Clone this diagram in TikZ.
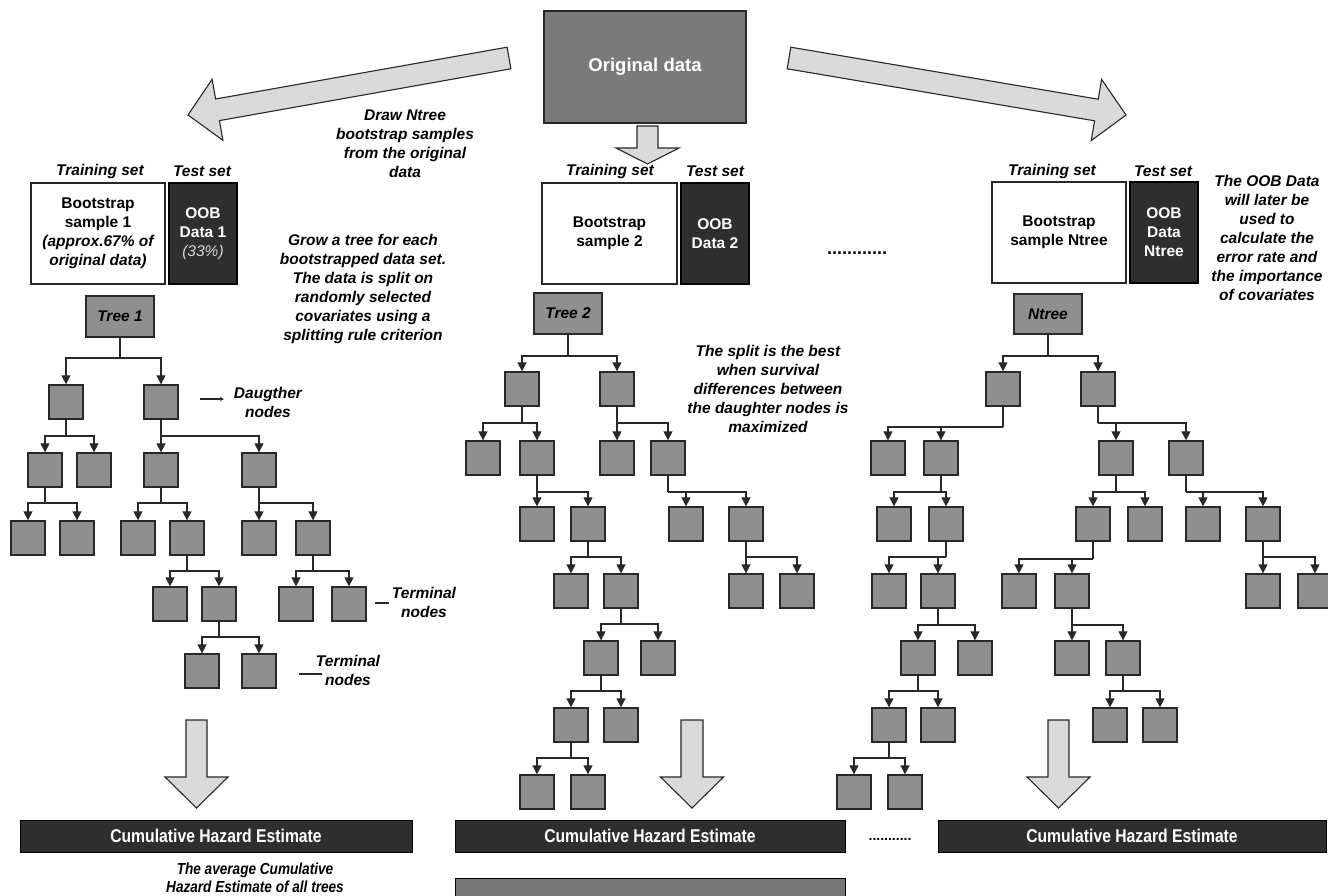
\documentclass[tikz,border=0pt]{standalone}
\usepackage{fontspec}
\setmainfont{Liberation Sans}
\newfontfamily\narrowfont[FakeStretch=0.85]{Liberation Sans}
\usetikzlibrary{arrows.meta,calc}

\definecolor{leaffill}{RGB}{143,143,143}
\definecolor{edgecol}{RGB}{40,40,40}
\definecolor{darkbox}{RGB}{46,46,46}
\definecolor{origfill}{RGB}{122,122,122}
\definecolor{arrfill}{RGB}{218,218,218}
\definecolor{lowbar}{RGB}{118,118,118}

\newcommand\bitext{\fontsize{15.5}{19}\selectfont\bfseries\itshape}
\newcommand\bftext{\fontsize{15.5}{19}\selectfont\bfseries}

% parent, branch y, child1, child2
\newcommand\splitnode[4]{%
  \draw[branch] (#1.south) -- (#1.south |- 0,#2);
  \draw[branch,tip] (#1.south |- 0,#2) -| (#3.north);
  \draw[branch,tip] (#1.south |- 0,#2) -| (#4.north);}

% centre x, half stem, top, head base, tip
\newcommand\blockdown[5]{%
  \filldraw[bigarrow] (#1-#2,#3) -- (#1+#2,#3) -- (#1+#2,#4) -- (#1+31.5,#4)
    -- (#1,#5) -- (#1-31.5,#4) -- (#1-#2,#4) -- cycle;}

\tikzset{
  leaf/.style={draw=edgecol, line width=1.3pt, fill=leaffill,
    minimum width=34pt, minimum height=34pt, inner sep=0pt},
  treebox/.style={leaf, minimum width=68pt, minimum height=41pt,
    font=\bitext},
  branch/.style={draw=edgecol, line width=1.2pt},
  tip/.style={-{Triangle[width=9pt,length=9pt]}},
  bigarrow/.style={fill=arrfill, draw=edgecol, line width=1.1pt, line join=miter},
  note/.style={align=center, font=\bitext, inner sep=0pt},
  setlabel/.style={font=\bitext, inner sep=0pt},
  bootbox/.style={draw=edgecol, line width=1.3pt, fill=white,
    minimum width=134pt, minimum height=101pt, inner sep=0pt,
    align=center, font=\bftext},
  oobbox/.style={draw=black, line width=1.3pt, fill=darkbox, text=white,
    minimum width=68pt, minimum height=101pt, inner sep=0pt,
    align=center, font=\bftext},
  hazbar/.style={draw=black, line width=1pt, fill=darkbox, text=white,
    minimum height=32pt, inner sep=0pt,
    font=\narrowfont\fontsize{18.5}{20}\selectfont\bfseries},
  pointer/.style={draw=edgecol, line width=1.1pt},
}

\begin{document}
\begin{tikzpicture}[x=1pt,y=-1pt]
\useasboundingbox (0,0) rectangle (1328,895);
\clip (0,0) rectangle (1328,895);
\fill[white] (0,0) rectangle (1328,895);

% ---------- top ----------
\node[draw=edgecol, line width=1.3pt, fill=origfill, minimum width=202pt,
  minimum height=112pt, text=white,
  font=\fontsize{18.5}{20}\selectfont\bfseries] (orig) at (645,67) {Original data};

\filldraw[bigarrow] (507.1,47.2) -- (215.6,99.0) -- (212.1,79.3) -- (188,115)
  -- (222.9,140.3) -- (219.4,120.6) -- (510.9,68.8) -- cycle;
\filldraw[bigarrow] (790.8,47.2) -- (1098.2,99.2) -- (1101.6,79.4) -- (1126,115)
  -- (1091.2,140.6) -- (1094.6,120.8) -- (787.2,68.8) -- cycle;
\blockdown{647.5}{10.5}{126}{148}{164}

\node[note] (drawnote) at (405,144) {Draw Ntree\\bootstrap samples\\from the original\\data};
\node[note] (grownote) at (363,289) {Grow a tree for each\\bootstrapped data set.\\The data is split on\\randomly selected\\covariates using a\\splitting rule criterion};
\node[note] (splitnote) at (768,388.5) {The split is the best\\when survival\\differences between\\the daughter nodes is\\maximized};
\node[note] (oobnote) at (1267,238) {The OOB Data\\will later be\\used to\\calculate the\\error rate and\\the importance\\of covariates};

% ---------- sample boxes ----------
\node[setlabel] (tr1) at (100,171) {Training set};
\node[setlabel] (te1) at (202,171) {Test set};
\node[setlabel] (tr2) at (610,171) {Training set};
\node[setlabel] (te2) at (715,171) {Test set};
\node[setlabel] (tr3) at (1052,171) {Training set};
\node[setlabel] (te3) at (1163,171) {Test set};

\node[bootbox] (boot1) at (98,233.5) {Bootstrap\\sample 1\\\itshape(approx.67\% of\\\itshape original data)};
\node[oobbox] (oob1) at (203,233.5) {OOB\\Data 1\\\color{gray!30}\mdseries\itshape(33\%)};
\node[bootbox, minimum width=135pt] (boot2) at (609.5,233.5) {Bootstrap\\sample 2};
\node[oobbox] (oob2) at (715,233.5) {OOB\\Data 2};
\node[bootbox] (boot3) at (1059,232.5) {Bootstrap\\sample Ntree};
\node[oobbox] (oob3) at (1164,232.5) {OOB\\Data\\Ntree};

\node[inner sep=0pt, font=\fontsize{18}{20}\selectfont\bfseries] (dotsA) at (857,253) {............};

% ---------- Tree 1 ----------
\node[treebox] (T1) at (120,316.5) {Tree 1};
\node[leaf] (p1a1) at (66,402) {};
\node[leaf] (p1a2) at (161,402) {};
\node[leaf] (p1b1) at (45,470) {};
\node[leaf] (p1b2) at (94,470) {};
\node[leaf] (p1b3) at (161,470) {};
\node[leaf] (p1b4) at (259,470) {};
\node[leaf] (p1c1) at (28,538) {};
\node[leaf] (p1c2) at (77,538) {};
\node[leaf] (p1c3) at (138,538) {};
\node[leaf] (p1c4) at (187,538) {};
\node[leaf] (p1c5) at (259,538) {};
\node[leaf] (p1c6) at (313,538) {};
\node[leaf] (p1d1) at (170,604) {};
\node[leaf] (p1d2) at (219,604) {};
\node[leaf] (p1d3) at (296,604) {};
\node[leaf] (p1d4) at (349,604) {};
\node[leaf] (p1e1) at (202,671) {};
\node[leaf] (p1e2) at (259,671) {};
\splitnode{T1}{358}{p1a1}{p1a2}
\splitnode{p1a1}{436}{p1b1}{p1b2}
\splitnode{p1a2}{436}{p1b3}{p1b4}
\splitnode{p1b1}{503}{p1c1}{p1c2}
\splitnode{p1b3}{503}{p1c3}{p1c4}
\splitnode{p1b4}{503}{p1c5}{p1c6}
\splitnode{p1c4}{571}{p1d1}{p1d2}
\splitnode{p1c6}{571}{p1d3}{p1d4}
\splitnode{p1d2}{637}{p1e1}{p1e2}

\node[note] (daughter) at (268,402) {Daugther\\nodes};
\coordinate (dptr) at (200,399);
\coordinate (dptre) at (224,399);
\draw[pointer,-{Stealth[length=4pt,width=4pt]}] (dptr) -- (dptre);
\node[note] (term1) at (424,602) {Terminal\\nodes};
\coordinate (tptr1) at (375,603);
\coordinate (tptr1e) at (389,603);
\draw[pointer] (tptr1) -- (tptr1e);
\node[note] (term2) at (348,670) {Terminal\\nodes};
\coordinate (tptr2) at (299,674);
\coordinate (tptr2e) at (322,674);
\draw[pointer] (tptr2) -- (tptr2e);

% ---------- Tree 2 ----------
\node[treebox] (T2) at (568,313.5) {Tree 2};
\node[leaf] (p2a1) at (522,389) {};
\node[leaf] (p2a2) at (617,389) {};
\node[leaf] (p2b1) at (483,458) {};
\node[leaf] (p2b2) at (537,458) {};
\node[leaf] (p2b3) at (617,458) {};
\node[leaf] (p2b4) at (668,458) {};
\node[leaf] (p2c1) at (537,524) {};
\node[leaf] (p2c2) at (588,524) {};
\node[leaf] (p2c3) at (686,524) {};
\node[leaf] (p2c4) at (746,524) {};
\node[leaf] (p2d1) at (571,591) {};
\node[leaf] (p2d2) at (621,591) {};
\node[leaf] (p2d3) at (746,591) {};
\node[leaf] (p2d4) at (797,591) {};
\node[leaf] (p2e1) at (601,658) {};
\node[leaf] (p2e2) at (658,658) {};
\node[leaf] (p2f1) at (571,725) {};
\node[leaf] (p2f2) at (621,725) {};
\node[leaf] (p2g1) at (537,792) {};
\node[leaf] (p2g2) at (588,792) {};
\splitnode{T2}{356}{p2a1}{p2a2}
\splitnode{p2a1}{423}{p2b1}{p2b2}
\splitnode{p2a2}{423}{p2b3}{p2b4}
\splitnode{p2b2}{492}{p2c1}{p2c2}
\splitnode{p2b4}{492}{p2c3}{p2c4}
\splitnode{p2c2}{557}{p2d1}{p2d2}
\splitnode{p2c4}{557}{p2d3}{p2d4}
\splitnode{p2d2}{624}{p2e1}{p2e2}
\splitnode{p2e1}{691}{p2f1}{p2f2}
\splitnode{p2f1}{758}{p2g1}{p2g2}

% ---------- Ntree ----------
\node[treebox, minimum height=40pt] (T3) at (1048,314) {Ntree};
\node[leaf] (p3a1) at (1003,389) {};
\node[leaf] (p3a2) at (1098,389) {};
\node[leaf] (p3b1) at (888,458) {};
\node[leaf] (p3b2) at (941,458) {};
\node[leaf] (p3b3) at (1116,458) {};
\node[leaf] (p3b4) at (1186,458) {};
\node[leaf] (p3c1) at (894,524) {};
\node[leaf] (p3c2) at (946,524) {};
\node[leaf] (p3c3) at (1093,524) {};
\node[leaf] (p3c4) at (1145,524) {};
\node[leaf] (p3c5) at (1203,524) {};
\node[leaf] (p3c6) at (1263,524) {};
\node[leaf] (p3d1) at (889,591) {};
\node[leaf] (p3d2) at (938,591) {};
\node[leaf] (p3d3) at (1019,591) {};
\node[leaf] (p3d4) at (1072,591) {};
\node[leaf] (p3d5) at (1263,591) {};
\node[leaf] (p3d6) at (1315,591) {};
\node[leaf] (p3e1) at (918,658) {};
\node[leaf] (p3e2) at (975,658) {};
\node[leaf] (p3e3) at (1072,658) {};
\node[leaf] (p3e4) at (1123,658) {};
\node[leaf] (p3f1) at (889,725) {};
\node[leaf] (p3f2) at (938,725) {};
\node[leaf] (p3f3) at (1110,725) {};
\node[leaf] (p3f4) at (1160,725) {};
\node[leaf] (p3g1) at (854,792) {};
\node[leaf] (p3g2) at (905,792) {};
\splitnode{T3}{356}{p3a1}{p3a2}
\splitnode{p3a1}{427}{p3b1}{p3b2}
\splitnode{p3a2}{423}{p3b3}{p3b4}
\splitnode{p3b2}{492}{p3c1}{p3c2}
\splitnode{p3b3}{492}{p3c3}{p3c4}
\splitnode{p3b4}{492}{p3c5}{p3c6}
\splitnode{p3c2}{557}{p3d1}{p3d2}
\splitnode{p3c3}{559}{p3d3}{p3d4}
\splitnode{p3c6}{557}{p3d5}{p3d6}
\splitnode{p3d2}{625}{p3e1}{p3e2}
\splitnode{p3d4}{625}{p3e3}{p3e4}
\splitnode{p3e1}{691}{p3f1}{p3f2}
\splitnode{p3e4}{691}{p3f3}{p3f4}
\splitnode{p3f1}{758}{p3g1}{p3g2}

% ---------- down arrows ----------
\blockdown{196.5}{10.5}{720}{777}{808}
\blockdown{692}{11}{720}{777}{808}
\blockdown{1058.5}{10.5}{720}{777}{808}

% ---------- bottom ----------
\node[hazbar, minimum width=392pt] (haz1) at (216,836) {Cumulative Hazard Estimate};
\node[hazbar, minimum width=390pt] (haz2) at (650,836) {Cumulative Hazard Estimate};
\node[hazbar, minimum width=388pt] (haz3) at (1132,836) {Cumulative Hazard Estimate};
\node[inner sep=0pt, font=\fontsize{14}{16}\selectfont\bfseries] (dotsB) at (890,839) {...........};
\node[align=center, inner sep=0pt,
  font=\narrowfont\fontsize{16}{18}\selectfont\bfseries\itshape] (avgnote) at (255,878)
  {The average Cumulative\\Hazard Estimate of all trees};
\node[draw=black, line width=1pt, fill=lowbar, minimum width=390pt,
  minimum height=40pt, inner sep=0pt] (avgbar) at (650,898) {};
\end{tikzpicture}
\end{document}
